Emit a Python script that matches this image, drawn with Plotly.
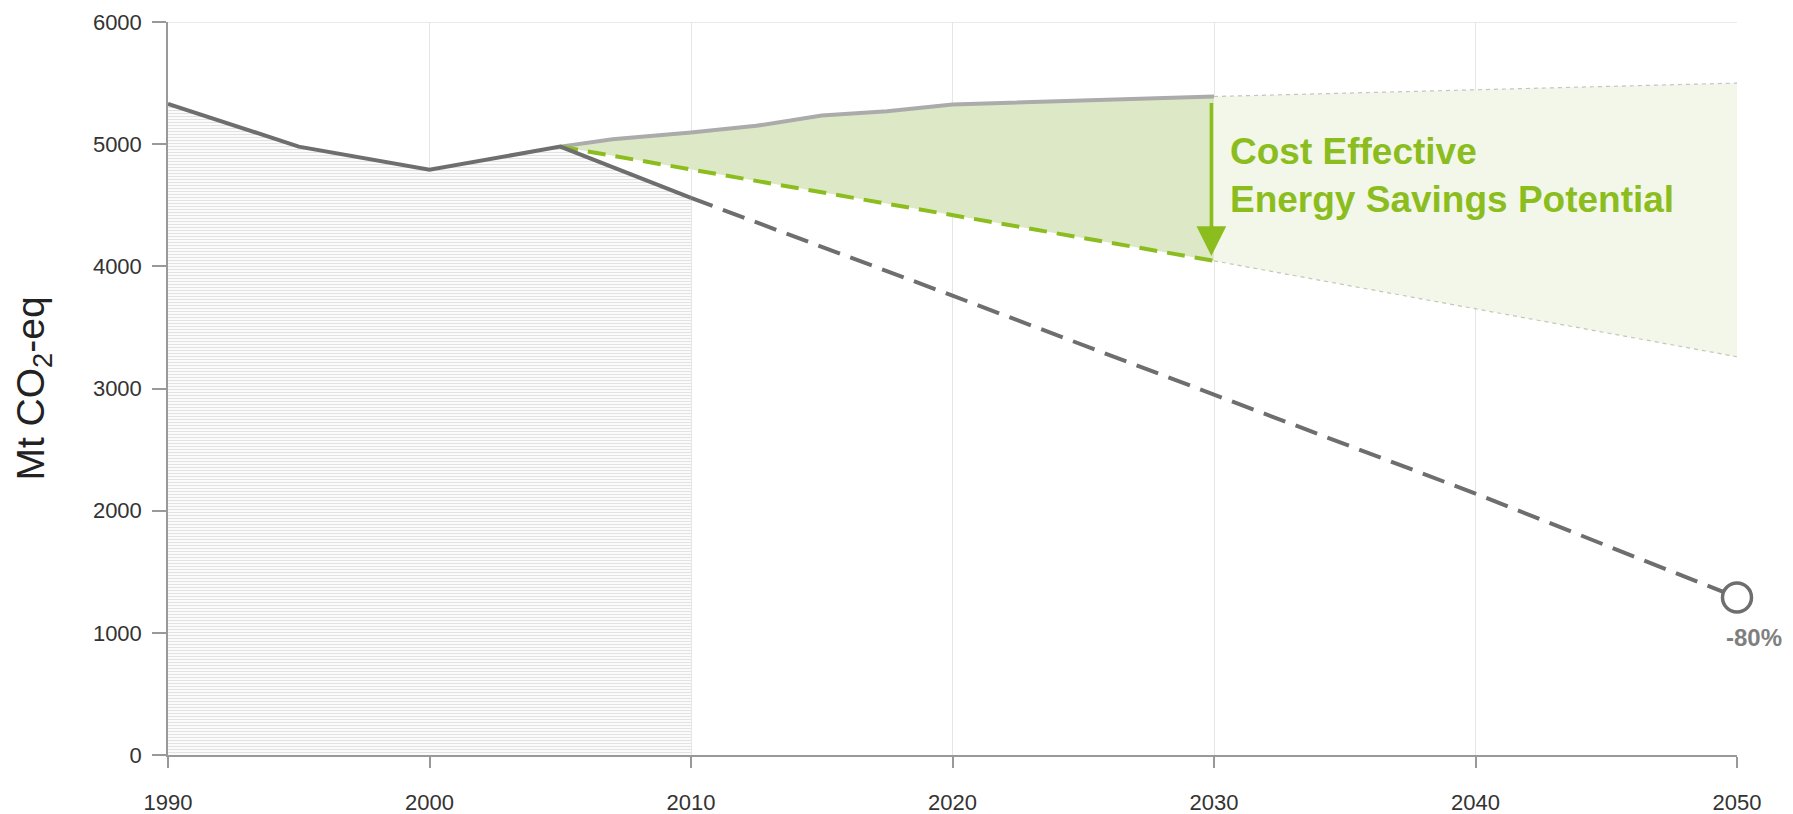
import plotly.graph_objects as go

# ---------------- data ----------------
hist_years = [1990, 1995, 2000, 2005, 2010]
hist_vals = [5330, 4980, 4790, 4980, 4560]

target_years = [2010, 2020, 2030, 2040, 2050]
target_vals = [4560, 3760, 2950, 2140, 1290]

base_years = [2005, 2007, 2010, 2012.5, 2015, 2017.5, 2020, 2025, 2030]
base_vals = [4980, 5040, 5095, 5150, 5235, 5270, 5325, 5360, 5390]

eff_years = [2005, 2030]
eff_vals = [4980, 4045]

ext_years = [2030, 2050]
ext_top_vals = [5390, 5500]
ext_bot_vals = [4045, 3260]

goal_year = [2050]
goal_val = [1290]
goal_label = "-80%"

x_ticks = [1990, 2000, 2010, 2020, 2030, 2040, 2050]
y_ticks = [0, 1000, 2000, 3000, 4000, 5000, 6000]

savings_text = "Cost Effective<br>Energy Savings Potential"
y_title = "Mt CO<sub>2</sub>-eq"

# ---------------- styles ----------------
FONT = "Liberation Sans, Arial, sans-serif"
DARK = "#6e6e6e"
LIGHT = "#ababab"
GREEN = "#8cbd1e"
FILL_DARK = "#dde9c6"
FILL_LIGHT = "#f3f7ea"

fig = go.Figure()

# hatched historical area
fig.add_trace(go.Scatter(
    x=hist_years, y=hist_vals, mode="lines", line=dict(width=0),
    fill="tozeroy", fillcolor="rgba(0,0,0,0)",
    fillpattern=dict(shape="-", fgcolor="#c6c6c6", bgcolor="white", size=3, solidity=0.45),
    hoverinfo="skip", showlegend=False))

# light extension fill 2030-2050
fig.add_trace(go.Scatter(
    x=ext_years + ext_years[::-1], y=ext_top_vals + ext_bot_vals[::-1],
    mode="lines", line=dict(width=0), fill="toself", fillcolor=FILL_LIGHT,
    hoverinfo="skip", showlegend=False))

# darker savings fill 2005-2030
fig.add_trace(go.Scatter(
    x=base_years + eff_years[::-1], y=base_vals + eff_vals[::-1],
    mode="lines", line=dict(width=0), fill="toself", fillcolor=FILL_DARK,
    hoverinfo="skip", showlegend=False))

# thin dashed extension lines
fig.add_trace(go.Scatter(
    x=ext_years, y=ext_top_vals, mode="lines",
    line=dict(color="#c4c4c4", width=1.2, dash="4px,4px"), showlegend=False))
fig.add_trace(go.Scatter(
    x=ext_years, y=ext_bot_vals, mode="lines",
    line=dict(color="#c2c8b4", width=1.2, dash="4px,4px"), showlegend=False))

# baseline (light gray)
fig.add_trace(go.Scatter(
    x=base_years, y=base_vals, mode="lines",
    line=dict(color=LIGHT, width=4), showlegend=False))

# efficiency path (green dashed)
fig.add_trace(go.Scatter(
    x=eff_years, y=eff_vals, mode="lines",
    line=dict(color=GREEN, width=4, dash="18px,10px"), showlegend=False))

# target path (dark dashed)
fig.add_trace(go.Scatter(
    x=target_years, y=target_vals, mode="lines",
    line=dict(color=DARK, width=4, dash="23px,11px"), showlegend=False))

# historical
fig.add_trace(go.Scatter(
    x=hist_years, y=hist_vals, mode="lines",
    line=dict(color=DARK, width=4), showlegend=False))

# goal marker
fig.add_trace(go.Scatter(
    x=goal_year, y=goal_val, mode="markers",
    marker=dict(size=29, color="white", line=dict(color=DARK, width=3.5)),
    cliponaxis=False, showlegend=False))

# savings arrow
fig.add_annotation(
    x=2029.9, y=eff_vals[-1] + 40, ax=2029.9, ay=base_vals[-1] - 40,
    xref="x", yref="y", axref="x", ayref="y",
    showarrow=True, arrowhead=2, arrowsize=1.7, arrowwidth=3.5, arrowcolor=GREEN, text="")

fig.add_annotation(
    x=2030.55, y=4740, xref="x", yref="y", text="<b>" + savings_text + "</b>",
    showarrow=False, xanchor="left", yanchor="middle", align="left",
    font=dict(family=FONT, size=37, color=GREEN))

fig.add_annotation(
    x=goal_year[0], y=goal_val[0], xref="x", yref="y", text="<b>" + goal_label + "</b>",
    showarrow=False, xanchor="center", yanchor="middle", xshift=17, yshift=-40,
    font=dict(family=FONT, size=24, color="#7f7f7f"))

# top border line
fig.add_shape(type="line", xref="paper", yref="y", x0=0, x1=1, y0=y_ticks[-1], y1=y_ticks[-1],
              line=dict(color="#e4e4e4", width=1.5), layer="below")

fig.update_layout(
    width=1785, height=806,
    margin=dict(l=160, r=56, t=14, b=59),
    plot_bgcolor="white", paper_bgcolor="white",
    font=dict(family=FONT, color="#333333"),
    showlegend=False,
    xaxis=dict(
        range=[x_ticks[0], x_ticks[-1]], tickvals=x_ticks, automargin=False,
        showgrid=True, gridcolor="#e6e6e6", gridwidth=1,
        showline=True, linecolor="#999999", linewidth=1.5,
        ticks="outside", ticklen=11, tickcolor="#999999", tickwidth=1.5,
        tickfont=dict(size=22, color="#333333"), ticklabelstandoff=16,
        zeroline=False),
    yaxis=dict(
        range=[y_ticks[0], y_ticks[-1]], tickvals=y_ticks, automargin=False,
        showgrid=False,
        showline=True, linecolor="#999999", linewidth=1.5,
        ticks="outside", ticklen=14, tickcolor="#999999", tickwidth=1.5,
        tickfont=dict(size=22, color="#333333"), ticklabelstandoff=6,
        zeroline=False,
        title=dict(text=y_title, font=dict(size=39, color="#222222"), standoff=36)),
)

fig.write_html("out.html")
